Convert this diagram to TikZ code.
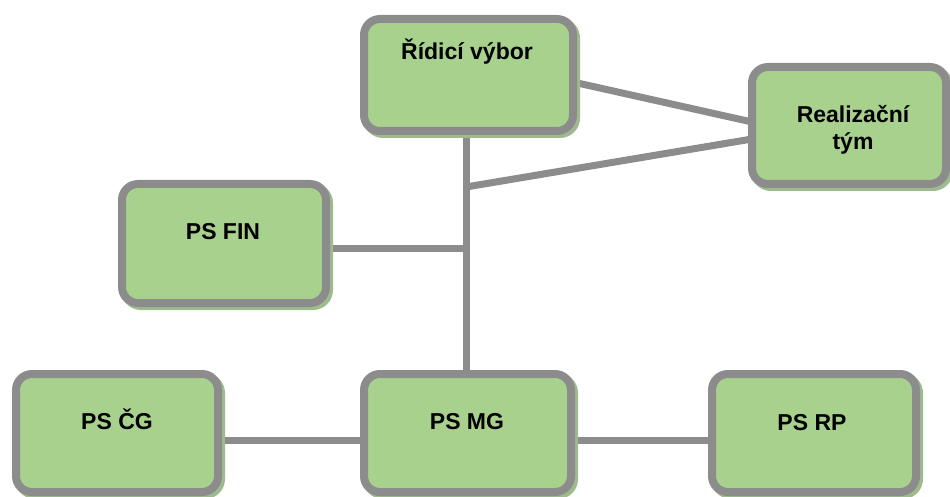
\documentclass[tikz,border=0pt]{standalone}
\usepackage{fontspec}
\setmainfont{Liberation Sans}
\usetikzlibrary{shadows,calc,backgrounds}
\definecolor{boxfill}{HTML}{A9D18E}
\definecolor{boxline}{HTML}{8C8C8C}
\definecolor{shgreen}{HTML}{9DBB8C}
\tikzset{
  box/.style={rectangle, rounded corners=16pt, draw=boxline, line width=8pt,
    fill=boxfill, inner sep=0pt, outer sep=0pt,
    drop shadow={shadow xshift=3pt, shadow yshift=-3pt, fill=shgreen, draw=shgreen, line width=8pt, opacity=1}},
  lbl/.style={font=\fontsize{23}{27}\selectfont\bfseries, inner sep=0pt, text=black},
  conn/.style={draw=boxline, line width=7pt},
}
\begin{document}
\begin{tikzpicture}[x=1pt,y=-1pt]
\useasboundingbox (0,0) rectangle (950,497);
% boxes
\node[box, minimum width=209pt, minimum height=112pt] (rv) at (468.5,75) {};
\node[box, minimum width=194pt, minimum height=117pt] (rt) at (849,125.5) {};
\node[box, minimum width=204pt, minimum height=119pt] (fin) at (224,243.5) {};
\node[box, minimum width=202pt, minimum height=118pt] (cg) at (117,433) {};
\node[box, minimum width=207pt, minimum height=118pt] (mg) at (467.5,433) {};
\node[box, minimum width=204pt, minimum height=118pt] (rp) at (814,433) {};
% labels
\node[lbl, anchor=base] (rvt) at (467,60) {Řídicí výbor};
\node[lbl, anchor=base] (rtt1) at (853,123) {Realizační};
\node[lbl, anchor=base] (rtt2) at (853,150) {tým};
\node[lbl, anchor=base] (fint) at (223,240) {PS FIN};
\node[lbl, anchor=base] (cgt) at (117,429) {PS ČG};
\node[lbl, anchor=base] (mgt) at (467,429) {PS MG};
\node[lbl, anchor=base] (rpt) at (812,430) {PS RP};
% junctions
\coordinate (j1) at (466,187);
\coordinate (j2) at (466,248);
\begin{scope}[on background layer]
\fill[white] (0,0) rectangle (950,497);
\draw[conn] (rv.south -| j1) -- (mg.north -| j1);
\draw[conn] ($(rv.east)+(0,7)$) -- ($(rt.west)+(0,-3.5)$);
\draw[conn] (j1) -- ($(rt.west)+(0,13.5)$);
\draw[conn] (fin.east |- j2) -- (j2);
\draw[conn] (cg.east |- 0,440) -- (mg.west |- 0,440);
\draw[conn] (mg.east |- 0,440) -- (rp.west |- 0,440);
\end{scope}
\end{tikzpicture}
\end{document}
